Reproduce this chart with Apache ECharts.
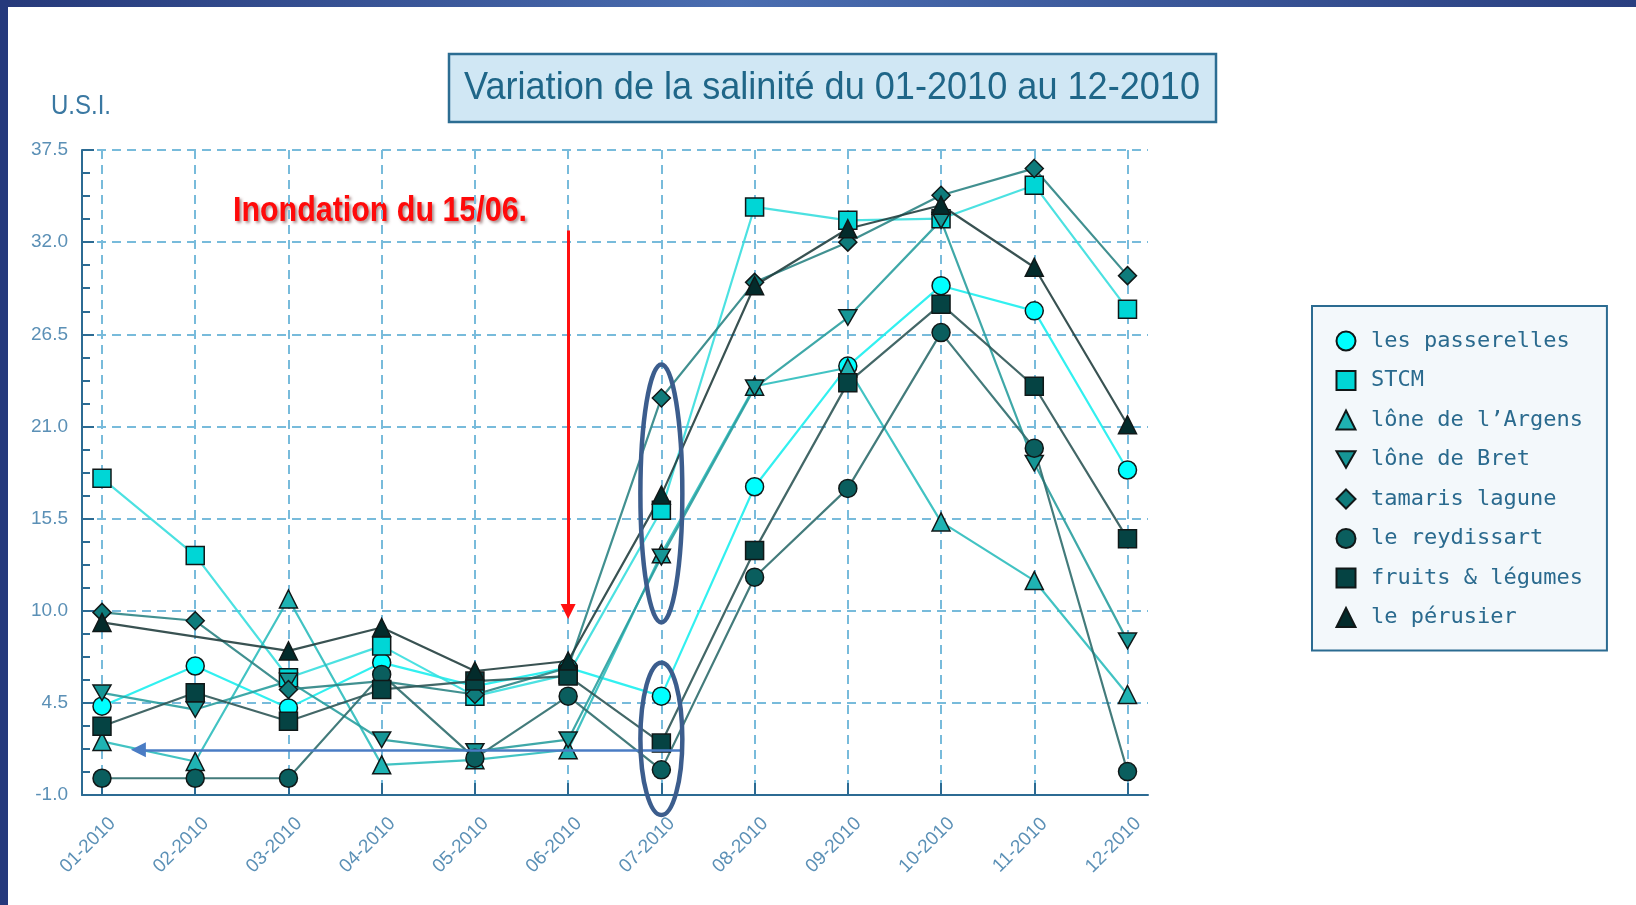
<!DOCTYPE html>
<html>
<head>
<meta charset="utf-8">
<script src="https://cdn.jsdelivr.net/npm/echarts@6/dist/echarts.min.js"></script>
<style>
html,body{margin:0;padding:0;background:#ffffff;}
#chart{width:1636px;height:905px;}
</style>
</head>
<body>
<div id="chart"></div>
<script>
// ---------------- data ----------------
const months = ['01-2010','02-2010','03-2010','04-2010','05-2010','06-2010',
                '07-2010','08-2010','09-2010','10-2010','11-2010','12-2010'];
const Y_MIN = -1.0, Y_MAX = 37.5, Y_STEP = 5.5;

const passerelles = [4.3, 6.7, 4.2, 6.9, 5.5, 6.6, 4.9, 17.4, 24.6, 29.4, 27.9, 18.4];
const stcm        = [17.9, 13.3, 6.0, 7.9, 4.9, 6.2, 16.0, 34.1, 33.3, 33.4, 35.4, 28.0];
const argens      = [2.2, 1.0, 10.7, 0.8, 1.1, 1.7, 13.4, 23.4, 24.5, 15.3, 11.8, 5.0];
const bret        = [5.1, 4.1, 5.8, 2.3, 1.6, 2.3, 13.2, 23.3, 27.5, 33.3, 18.8, 8.2];
const tamaris     = [9.9, 9.4, 5.3, 5.8, 5.0, 6.6, 22.7, 29.6, 32.0, 34.8, 36.4, 30.0];
const reydissart  = [0.0, 0.0, 0.0, 6.2, 1.2, 4.9, 0.5, 12.0, 17.3, 26.6, 19.7, 0.4];
const fruits      = [3.1, 5.1, 3.4, 5.3, 5.8, 6.1, 2.1, 13.6, 23.6, 28.3, 23.4, 14.3];
const perusier    = [9.3, null, 7.6, 9.0, 6.4, 7.0, 16.9, 29.4, 32.8, 34.2, 30.5, 21.1];

const seriesNames = ['les passerelles', 'STCM', 'lône de l’Argens', 'lône de Bret',
                     'tamaris lagune', 'le reydissart', 'fruits & légumes', 'le pérusier'];
const seriesValues = [passerelles, stcm, argens, bret, tamaris, reydissart, fruits, perusier];

// annotations (in data units)
const floodMonthIndex = 5;              // 06-2010
const floodArrowFrom = 32.7, floodArrowTo = 9.95;
const ellipseMonth = 6;                 // 07-2010
const ellipseTop = [24.7, 6.9];
const ellipseBottom = [9.3, -2.2];
const blueArrowY = 1.7, blueArrowFrom = 6.22, blueArrowTo = 0.39;
const orangeLine = [[-0.054, 7.57], [12.755, 7.31]];

// ---------------- styles ----------------
const DOWN = 'path://M0,0L20,0L10,17.32Z';
const styles = [
  {symbol: 'circle',   fill: '#00ffff', line: '#1ceeee'},
  {symbol: 'rect',     fill: '#00d6d6', line: '#38dede'},
  {symbol: 'triangle', fill: '#1fb3b3', line: '#2dbcbc'},
  {symbol: DOWN,       fill: '#169696', line: '#2a9f9f'},
  {symbol: 'diamond',  fill: '#0f7b7b', line: '#2c8484'},
  {symbol: 'circle',   fill: '#0a5e5e', line: '#2f6d6d'},
  {symbol: 'rect',     fill: '#054343', line: '#2f5656'},
  {symbol: 'triangle', fill: '#032b2b', line: '#243f3f'}
];
const AX = '#2c6b93';
const GRID = '#78bbdb';
const LABEL = '#5b90b6';

const ctx = document.createElement('canvas').getContext('2d');
function tw(text, font) { ctx.font = font; return ctx.measureText(text).width; }

const titleText = 'Variation de la salinité du 01-2010 au 12-2010';
const titleFont = '38px "Liberation Sans", Arial, sans-serif';
const titleScale = 736 / tw(titleText, titleFont);
const usiText = 'U.S.I.';
const usiFont = '28px "Liberation Sans", Arial, sans-serif';
const usiScale = 60 / tw(usiText, usiFont);
const floodText = 'Inondation du 15/06.';
const floodFont = 'bold 35px "Liberation Sans", Arial, sans-serif';
const floodScale = 294 / tw(floodText, floodFont);

const chart = echarts.init(document.getElementById('chart'), null, {renderer: 'canvas'});

const dataSeries = seriesValues.map((vals, i) => ({
  name: seriesNames[i],
  type: 'line',
  xAxisIndex: 1,
  yAxisIndex: 1,
  data: vals.map((v, j) => [j, v]),
  connectNulls: true,
  symbol: styles[i].symbol,
  symbolSize: 18,
  symbolKeepAspect: true,
  showAllSymbol: true,
  clip: false,
  itemStyle: {color: styles[i].fill, borderColor: '#101818', borderWidth: 1.5},
  lineStyle: {color: styles[i].line, width: 2.2, opacity: 0.9},
  emphasis: {disabled: true},
  z: 3
}));

// annotation lines hosted on the first series
dataSeries[0].markLine = {
  silent: true,
  animation: false,
  label: {show: false},
  emphasis: {disabled: true},
  data: [
    [
      {coord: [floodMonthIndex, floodArrowFrom], symbol: 'none',
       lineStyle: {color: '#ff1010', width: 3, type: 'solid'}},
      {coord: [floodMonthIndex, floodArrowTo], symbol: 'triangle', symbolSize: 15}
    ],
    [
      {coord: [blueArrowFrom, blueArrowY], symbol: 'none',
       lineStyle: {color: '#4a7cc4', width: 2.5, type: 'solid'}},
      {coord: [blueArrowTo, blueArrowY], symbol: 'triangle', symbolSize: 15}
    ],
    [
      {coord: orangeLine[0], symbol: 'none',
       lineStyle: {color: '#e8731c', width: 2, type: [9, 5]}},
      {coord: orangeLine[1], symbol: 'none'}
    ]
  ]
};

const ellipseSeries = {
  type: 'custom',
  name: 'ellipses',
  xAxisIndex: 1,
  yAxisIndex: 1,
  clip: false,
  silent: true,
  z: 5,
  data: ellipseTop.map((t, k) => [ellipseMonth, t, ellipseBottom[k]]),
  encode: {x: 0, y: [1, 2]},
  renderItem: function (params, api) {
    const top = api.coord([api.value(0), api.value(1)]);
    const bot = api.coord([api.value(0), api.value(2)]);
    const w = api.size([0.45, 0])[0];
    return {
      type: 'ellipse',
      shape: {cx: top[0], cy: (top[1] + bot[1]) / 2, rx: w / 2, ry: (bot[1] - top[1]) / 2},
      style: {fill: 'none', stroke: '#3c5d8d', lineWidth: 4.5}
    };
  }
};

const option = {
  animation: false,
  backgroundColor: '#ffffff',
  grid: [
    {left: 82, top: 150, width: 1066, height: 645},
    {left: 102, top: 150, width: 1025.5, height: 645}
  ],
  xAxis: [
    {
      gridIndex: 0, type: 'value', min: 0, max: 1,
      axisLine: {show: true, onZero: false, lineStyle: {color: AX, width: 2}},
      axisTick: {show: false}, axisLabel: {show: false}, splitLine: {show: false}
    },
    {
      gridIndex: 1, type: 'value', min: 0, max: months.length - 1, interval: 1,
      axisLine: {show: false, onZero: false},
      axisTick: {show: true, inside: true, length: 12, lineStyle: {color: AX, width: 2}},
      axisLabel: {
        formatter: v => months[v] || '',
        rotate: 45, align: 'center', verticalAlign: 'middle',
        padding: [0, 40, 0, 0], margin: 36,
        color: LABEL, fontSize: 19, fontFamily: 'Liberation Sans, Arial, sans-serif'
      },
      splitLine: {show: true, lineStyle: {color: GRID, width: 2, type: [9, 6]}}
    }
  ],
  yAxis: [
    {
      gridIndex: 0, type: 'value', min: Y_MIN, max: Y_MAX, interval: Y_STEP,
      axisLine: {show: true, onZero: false, lineStyle: {color: AX, width: 2}},
      axisTick: {show: true, inside: true, length: 12, lineStyle: {color: AX, width: 2}},
      minorTick: {show: true, splitNumber: 4, length: 8, lineStyle: {color: AX, width: 2}},
      axisLabel: {
        formatter: v => v.toFixed(1), margin: 14,
        color: LABEL, fontSize: 19, fontFamily: 'Liberation Sans, Arial, sans-serif'
      },
      splitLine: {show: true, lineStyle: {color: GRID, width: 2, type: [9, 6]}}
    },
    {
      gridIndex: 1, type: 'value', min: Y_MIN, max: Y_MAX, interval: Y_STEP, show: false,
      splitLine: {show: false}
    }
  ],
  legend: {
    orient: 'vertical',
    left: 1312, top: 306,
    padding: [24, 24, 22, 23.5],
    itemGap: 17.5,
    itemWidth: 19, itemHeight: 19,
    backgroundColor: '#f3f8fb',
    borderColor: '#2b6b91', borderWidth: 2,
    selectedMode: false,
    textStyle: {fontFamily: 'DejaVu Sans Mono, monospace', fontSize: 22, color: '#2a6a8e',
                padding: [0, 0, 0, 10.5]},
    data: seriesNames.map((n, i) => ({name: n, icon: styles[i].symbol}))
  },
  graphic: [
    // outer frame
    {type: 'rect', left: 0, top: 0, shape: {width: 1636, height: 7}, silent: true,
     style: {fill: new echarts.graphic.LinearGradient(0, 0, 1, 0, [
       {offset: 0, color: '#26397a'}, {offset: 0.45, color: '#4a6db0'}, {offset: 1, color: '#2a3f80'}])}},
    {type: 'rect', left: 0, top: 0, shape: {width: 8, height: 905}, silent: true, style: {fill: '#25397c'}},
    // title box
    {type: 'rect', x: 449, y: 54, shape: {width: 767, height: 68}, silent: true,
     style: {fill: '#d0e7f4', stroke: '#2c6d92', lineWidth: 2.5}},
    {type: 'text', x: 464, y: 88, scaleX: titleScale, scaleY: 1.04, silent: true,
     style: {text: titleText, font: titleFont, fill: '#1f6688', align: 'left', verticalAlign: 'middle'}},
    // y unit
    {type: 'text', x: 51, y: 106, scaleX: usiScale, silent: true,
     style: {text: usiText, font: usiFont, fill: '#3a78a2', align: 'left', verticalAlign: 'middle'}},
    // flood annotation
    {type: 'text', x: 233, y: 211, scaleX: floodScale, silent: true,
     style: {text: floodText, font: floodFont, fill: '#ff0a0a', align: 'left', verticalAlign: 'middle',
             textShadowColor: 'rgba(60,0,0,0.45)', textShadowBlur: 3, textShadowOffsetX: 2, textShadowOffsetY: 2}}
  ],
  series: dataSeries.concat([ellipseSeries])
};

chart.setOption(option);
</script>
</body>
</html>
